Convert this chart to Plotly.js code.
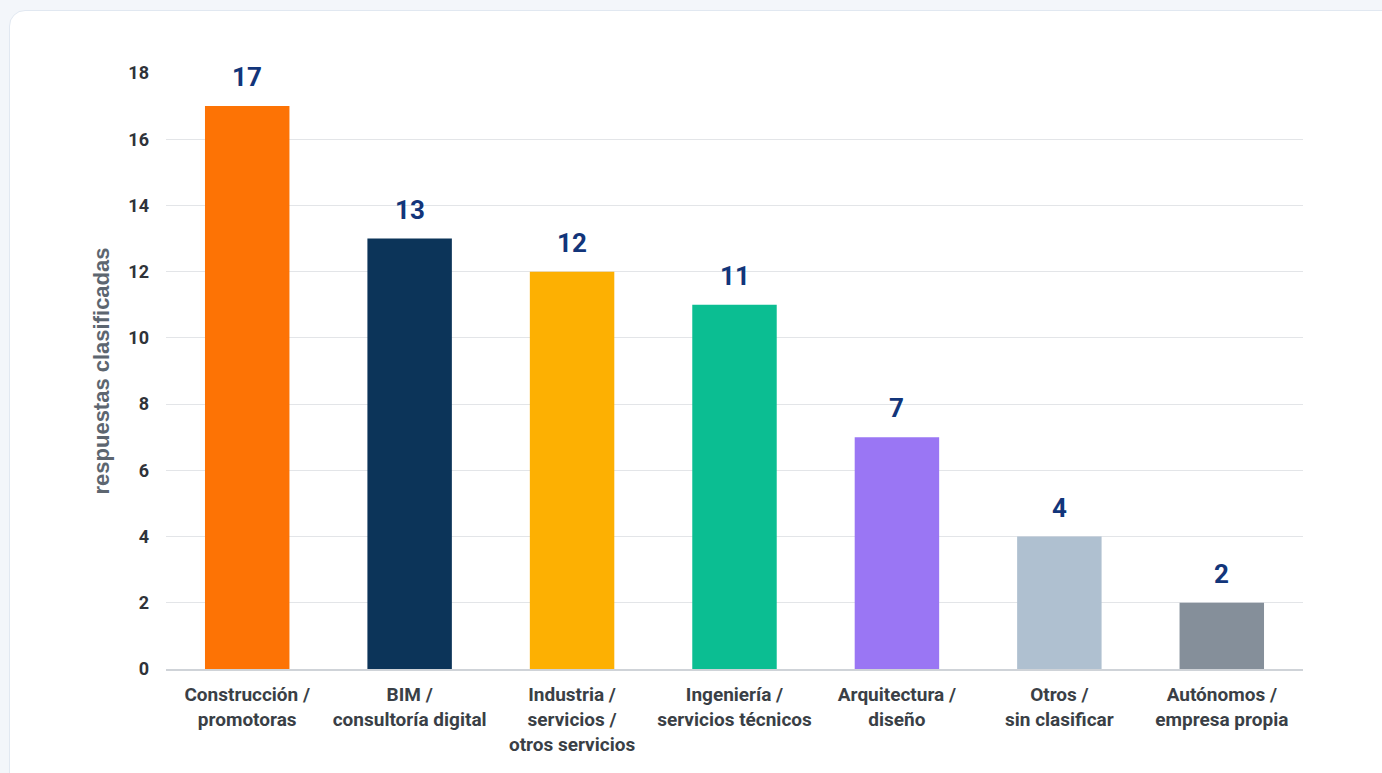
<!DOCTYPE html>
<html>
<head>
<meta charset="utf-8">
<script src="https://cdn.plot.ly/plotly-3.0.1.min.js"></script>
<style>
  html, body { margin: 0; padding: 0; width: 1382px; height: 773px; overflow: hidden; background: #f3f6fa; }
  #card { position: absolute; left: 9px; top: 10px; width: 1400px; height: 800px; background: #ffffff;
          border: 1.5px solid #e1e8f1; border-radius: 16px; }
  #chart { position: absolute; left: 0; top: 0; width: 1382px; height: 773px; }
</style>
</head>
<body>
<div id="card"></div>
<div id="chart"></div>
<script>
const categories = [
  "Construcción /<br>promotoras",
  "BIM /<br>consultoría digital",
  "Industria /<br>servicios /<br>otros servicios",
  "Ingeniería /<br>servicios técnicos",
  "Arquitectura /<br>diseño",
  "Otros /<br>sin clasificar",
  "Autónomos /<br>empresa propia"
];
const values = [17, 13, 12, 11, 7, 4, 2];
const barColors = ["#fd7305", "#0c3459", "#fdb002", "#0bbe92", "#9a76f4", "#afc0d0", "#858f9a"];
const yTickVals = [0, 2, 4, 6, 8, 10, 12, 14, 16, 18];
const yTitle = "respuestas clasificadas";

const narrow = '"Liberation Sans Narrow", "Roboto", "Liberation Sans", Arial, sans-serif';

const trace = {
  type: 'bar',
  x: categories,
  y: values,
  marker: { color: barColors, line: { width: 0 } },
  width: 0.52,
  hoverinfo: 'skip'
};

const annotations = values.map((v, i) => ({
  x: categories[i], y: v, xref: 'x', yref: 'y',
  text: '<b>' + v + '</b>', showarrow: false,
  yanchor: 'bottom', yshift: 12,
  font: { family: narrow, size: 26, color: '#12357a' }
}));

const layout = {
  width: 1382, height: 773,
  paper_bgcolor: 'rgba(0,0,0,0)',
  plot_bgcolor: 'rgba(0,0,0,0)',
  margin: { l: 166, r: 79, t: 73, b: 104 },
  showlegend: false,
  bargap: 0.48,
  xaxis: {
    type: 'category',
    tickfont: { family: narrow, size: 19, color: '#3a3f46', weight: 'bold' },
    showgrid: false,
    showline: true, linecolor: '#cfd3d8', linewidth: 1.5,
    ticks: '', ticklabelstandoff: 8,
    zeroline: false, fixedrange: true
  },
  yaxis: {
    range: [0, 18],
    tickvals: yTickVals,
    tickfont: { family: narrow, size: 18, color: '#2f3339', weight: 'bold' },
    showgrid: true, gridcolor: '#e3e5e8', gridwidth: 1,
    zeroline: false, showline: false, ticks: '',
    ticklabelstandoff: 16,
    title: { text: yTitle, font: { family: '"Liberation Sans", Arial, sans-serif', size: 22, color: '#5d6670', weight: 'bold' }, standoff: 12 },
    automargin: false, fixedrange: true
  },
  annotations: annotations
};

Plotly.newPlot('chart', [trace], layout, { displayModeBar: false, staticPlot: true });
</script>
</body>
</html>
